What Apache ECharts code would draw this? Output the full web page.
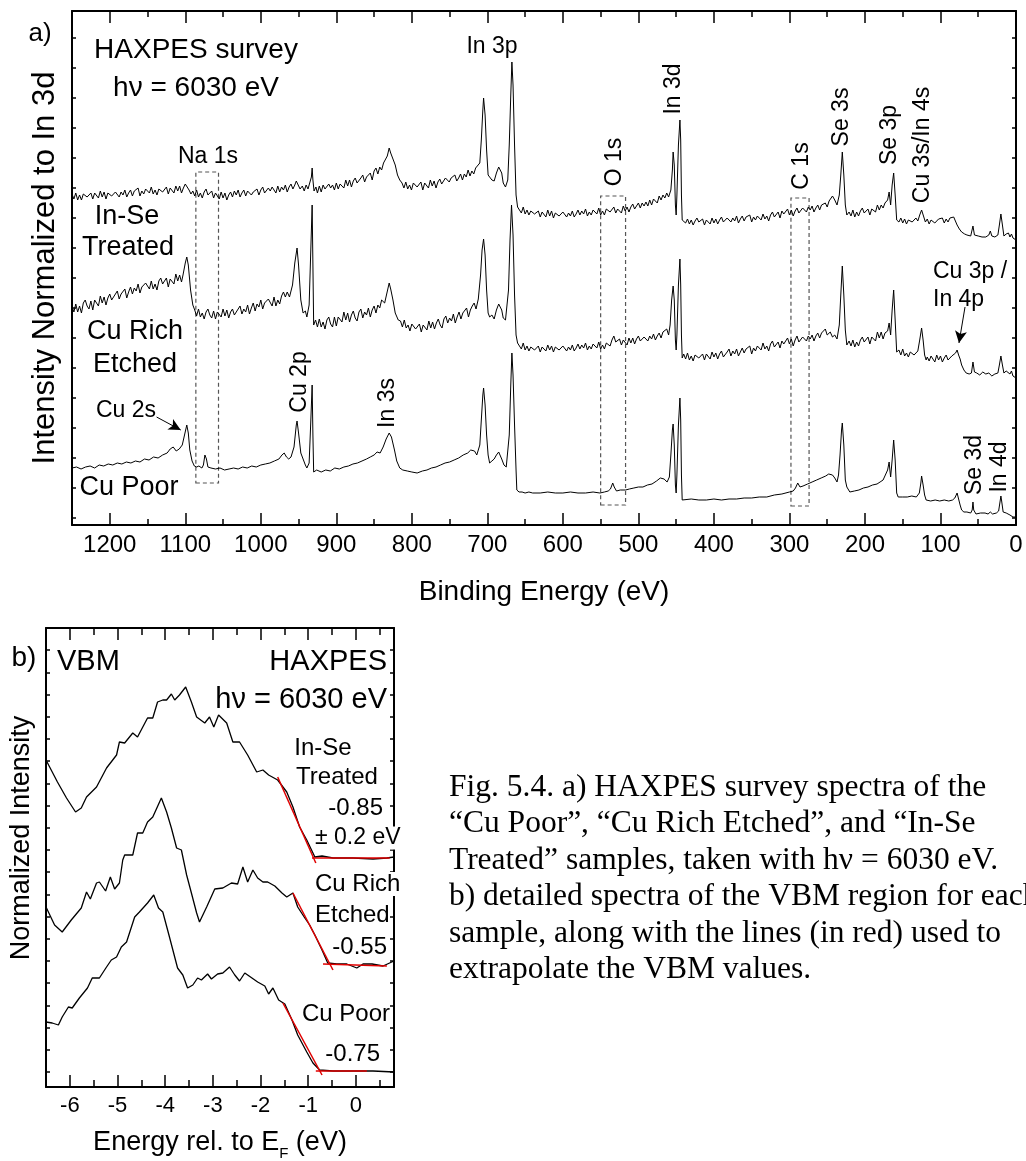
<!DOCTYPE html>
<html><head><meta charset="utf-8">
<script src="https://cdn.jsdelivr.net/npm/echarts@6/dist/echarts.min.js"></script>
<style>html,body{margin:0;padding:0;background:#fff}#c{width:1026px;height:1161px}</style>
</head><body><div id="c"></div>
<script>
// ---------------- DATA ----------------
// Panel a: survey spectra, [binding energy (eV), intensity (arb.)]
const surveyTicks = [0,100,200,300,400,500,600,700,800,900,1000,1100,1200];
const surveyMinorTicks = [50,150,250,350,450,550,650,750,850,950,1050,1150];
const surveyYTicks = [7,37,67,97,127,157,187,217,247,277,307,337,367,397,427,457,487];

const inSeSurvey = [[1250,331],[1247.5,326],[1245,332],[1242.5,325],[1240,330],[1237.5,325],[1235,331],[1232.5,333],[1230,328],[1227.5,326],[1225,332],[1222.5,326],[1220,332],[1217.5,330],[1215,327],[1212.5,334],[1210,328],[1207.5,333],[1205,326],[1202.5,332],[1200,334],[1197.5,329],[1195,327],[1192.5,333],[1190,335],[1187.5,328],[1185,333],[1182.5,330],[1180,335],[1177.5,328],[1175,332],[1172.5,335],[1170,329],[1167.5,334],[1165,332],[1162.5,337],[1160,329],[1157.5,334],[1155,331],[1152.5,336],[1150,336],[1147.5,332],[1145,338],[1142.5,331],[1140,335],[1137.5,330],[1135,336],[1132.5,338],[1130,333],[1127.5,332],[1125,338],[1122.5,331],[1120,337],[1117.5,335],[1115,332],[1112.5,339],[1110,334],[1107.5,339],[1105,332],[1102.5,337],[1100,341],[1097.5,339],[1095,335],[1092.5,331],
[1090,334],[1087.5,329],[1085,335],[1082.5,328],[1080,332],[1077.5,327],[1075,333],[1072.5,336],[1070,330],[1067.5,328],[1065,334],[1062.5,327],[1060,332],[1057.5,330],[1055,326],[1052.5,333],[1050,327],[1047.5,332],[1045,325],[1042.5,330],[1040,333],[1037.5,328],[1035,334],[1032.5,330],[1030,335],[1027.5,328],[1025,332],[1022.5,335],[1020,329],[1017.5,334],[1015,336],[1012.5,330],[1010,333],[1007.5,331],[1005,336],[1002.5,330],[1000,335],[997.5,338],[995,332],[992.5,331],[990,337],[987.5,334],[985,338],[982.5,335],[980,332],[977.5,339],[975,333],[972.5,338],[970,335],[967.5,340],[965,333],[962.5,338],[960,341],[957.5,336],[955,340],[953,344],[952,346],[950.5,340],[948,336],[945,339],[942.5,334],[940,340],[937.5,336],[935,338],[933,348],[932,357],[931,345],[929.5,334],[927,338],
[925,332],[922.5,339],[920,333],[917.5,340],[915,336],[912.5,334],[910,341],[907.5,337],[905,340],[902.5,335],[900,342],[897.5,336],[895,341],[892.5,339],[890,337],[887.5,345],[885,339],[882.5,345],[880,338],[877.5,344],[875,347],[872.5,342],[870,340],[867.5,347],[865,350],[862.5,343],[860,348],[857.5,346],[855,352],[852.5,345],[850,354],[847.5,357],[845,351],[842.5,358],[840,355],[837.5,362],[835,364],[832.5,369],[830,377],[828,372],[825,366],[822,360],[819,350],[816,345],
[813,342],[810.5,337],[808,343],[805.5,336],[803,340],[800.5,335],[798,342],[795.5,344],[793,338],[790.5,336],[788,343],[785.5,335],[783,342],[780.5,340],[778,337],[775.5,345],[773,339],[770.5,344],[768,337],[765.5,343],[763,346],[760.5,341],[758,339],[755.5,347],[753,349],[750.5,343],[748,347],[745.5,345],[743,350],[740.5,344],[738,347],[735.5,351],[733,345],[730.5,351],[728,348],[725.5,355],[723,349],[720.5,354],[718,351],[715.5,357],[713,356],[710,362],[708,385],[706,415],[705,427],[703,410],[701,375],[699,350],[697,348],[694,345],[691,344],[688,352],[685,358],[683,360],[681,352],[679,342],[676,338],[673,345],[671,380],[669,430],[667.5,463],[666,440],[664,380],[662,330],[660,318],
[657.5,317],[655,312],[652.5,318],[650,311],[647.5,315],[645,310],[642.5,314],[640,316],[637.5,311],[635,309],[632.5,314],[630,308],[627.5,313],[625,311],[622.5,308],[620,315],[617.5,309],[615,314],[612.5,307],[610,312],[607.5,314],[605,309],[602.5,307],[600,313],[597.5,315],[595,308],[592.5,312],[590,309],[587.5,314],[585,308],[582.5,311],[580,315],[577.5,310],[575,314],[572.5,311],[570,316],[567.5,309],[565,313],[562.5,310],[560,315],[557.5,316],[555,311],[552.5,317],[550,310],[547.5,314],[545,310],[542.5,316],[540,318],[537.5,313],[535,311],[532.5,318],[530,312],[527.5,316],[525,315],[522.5,312],[520,319],[517.5,314],[515,318],[512.5,313],[510,318],[507.5,321],[505,316],[502.5,315],[500,322],[497.5,317],[495,322],[492.5,319],[490,323],[487.5,319],[485,325],[482.5,320],[480,326],[477.5,324],[475,322],[472.5,329],[470,325],[467.5,330],[465,327],[462.5,332],[460,328],[459,330],[457,335],[455,355],[454,373],[452.5,360],[451,320],[450,310],[449,330],[447,380],[445,405],[444,385],[443,330],[442,305],
[440,307],[437.5,302],[435,306],[432.5,301],[430,305],[427.5,300],[425,304],[422.5,307],[420,303],[417.5,301],[415,306],[412.5,300],[410,305],[407.5,303],[405,301],[402.5,307],[400,302],[397.5,306],[395,301],[392.5,305],[390,308],[387.5,303],[385,301],[382.5,307],[380,309],[377.5,303],[375,307],[372.5,304],[370,309],[367.5,302],[365,306],[362.5,309],[360,304],[357.5,308],[355,306],[352.5,310],[350,303],[347.5,308],[345,305],[342.5,309],[340,310],[337.5,305],[335,311],[332.5,306],[330,309],[327.5,304],[325,310],[322.5,313],[320,308],[317.5,307],[315,313],[312.5,307],[310,314],[307.5,311],[305,309],[302.5,316],[300,310],[297.5,315],[295,309],[292.5,314],[290,317],[287.5,312],[285,311],[282.5,317],[280,319],[277.5,313],[275,318],[272.5,315],[270,319],[267.5,313],[265,317],[262.5,320],[260,315],[257.5,320],[255,319],[252.5,322],[250,318],[247.5,324],[245,326],[243,329],[240,325],[237,320],[234,330],[232,350],[230,373],[228,350],[226,320],[224,310],
[221,313],[218.5,309],[216,315],[213.5,308],[211,313],[208.5,309],[206,314],[203.5,317],[201,312],[198.5,310],[196,316],[193.5,310],[191,316],[188.5,315],[186,313],[183.5,320],[181,315],[178.5,320],[176,317],[173.5,322],[172,320],[170,325],[168,333],[166,320],[164,340],[162,352],[160,330],[158,305],
[155,303],[152.5,307],[150,302],[147.5,306],[145,301],[142.5,305],[140,307],[137.5,303],[135,301],[132.5,307],[130,304],[127.5,310],[125,315],[122.5,309],[120,303],[117.5,306],[115,301],[112.5,305],[110,307],[107.5,302],[105,300],[102.5,306],[100,304],[97.5,307],[95,302],[92.5,306],[90,303],[87.5,307],[85,305],[82.5,308],[80,306],[78,300],[75,296],[72,293],[68,291],[65,290],[60,289],[57,299],[55,290],[50,289],[45,288],[40,288],[36,290],[34,294],[32,289],[28,288],[24,290],[22,300],[20,311],[18,300],[16,289],[13,291],[10,292],[8,288],[6,291],[4,287],[2,286],[0,285]];

const cuRichSurvey = [[1250,219],[1247.5,213],[1245,221],[1242.5,213],[1240,219],[1237.5,212],[1235,222],[1232.5,225],[1230,219],[1227.5,216],[1225,224],[1222.5,215],[1220,225],[1217.5,222],[1215,219],[1212.5,229],[1210,222],[1207.5,228],[1205,220],[1202.5,227],[1200,231],[1197.5,225],[1195,223],[1192.5,231],[1190,234],[1187.5,226],[1185,231],[1182.5,229],[1180,236],[1177.5,227],[1175,233],[1172.5,238],[1170,231],[1167.5,237],[1165,234],[1162.5,241],[1160,232],[1157.5,238],[1155,236],[1152.5,242],[1150,243],[1147.5,236],[1145,244],[1142.5,236],[1140,241],[1137.5,235],[1135,244],[1132.5,247],[1130,241],[1127.5,239],[1125,247],[1122.5,238],[1120,246],[1117.5,244],[1115,241],[1112.5,251],[1110,244],[1107.5,250],[1105,243],[1103,250],[1100,262],[1098,268],[1096,260],[1093,235],[1090,220],
[1087.5,215],[1085,209],[1082.5,216],[1080,208],[1077.5,212],[1075,206],[1072.5,213],[1070,216],[1067.5,210],[1065,207],[1062.5,214],[1060,206],[1057.5,213],[1055,211],[1052.5,208],[1050,216],[1047.5,209],[1045,215],[1042.5,207],[1040,213],[1037.5,216],[1035,210],[1032.5,208],[1030,216],[1027.5,219],[1025,211],[1022.5,216],[1020,213],[1017.5,220],[1015,211],[1012.5,217],[1010,222],[1007.5,214],[1005,221],[1002.5,218],[1000,225],[997.5,216],[995,222],[992.5,220],[990,226],[987.5,224],[985,219],[982.5,228],[980,219],[977.5,225],[975,221],[972.5,229],[970,233],[967.5,228],[965,233],[962,228],[958,240],[955,262],[952,277],[950,260],[947,225],[944,212],[941,214],[939,208],[936,220],[934,270],[932,320],[931,260],[930,200],
[927.5,205],[925,198],[922.5,206],[920,198],[917.5,203],[915,196],[912.5,205],[910,208],[907.5,201],[905,198],[902.5,208],[900,199],[897.5,208],[895,206],[892.5,203],[890,213],[887.5,205],[885,212],[882.5,203],[880,210],[877.5,214],[875,207],[872.5,204],[870,213],[867.5,216],[865,207],[862.5,213],[860,210],[857.5,217],[855,208],[852.5,215],[850,219],[847.5,212],[845,220],[842.5,217],[840,225],[836,222],[833,232],[830,242],[828,236],[825,225],[822,212],[818,205],
[815,204],[812.5,198],[810,205],[807.5,197],[805,200],[802.5,194],[800,201],[797.5,203],[795,196],[792.5,194],[790,201],[787.5,193],[785,200],[782.5,198],[780,195],[777.5,204],[775,197],[772.5,203],[770,196],[767.5,202],[765,206],[762.5,200],[760,197],[757.5,206],[755,209],[752.5,202],[750,207],[747.5,204],[745,211],[742.5,202],[740,208],[737.5,213],[735,206],[732.5,212],[730,210],[727.5,217],[725,208],[722.5,215],[720,219],[717.5,222],[715,216],[712,226],[709,250],[707,275],[705,286],[703,270],[701,235],[699,212],[697,208],[694,210],[691,206],[688,215],[685,221],[683,223],[681,215],[679,207],[676,205],[674,207],[672,235],[670,285],[668,320],[666,290],[664,230],[662,190],[660,182],
[657.5,181],[655,176],[652.5,182],[650,175],[647.5,179],[645,174],[642.5,178],[640,180],[637.5,175],[635,173],[632.5,179],[630,173],[627.5,178],[625,177],[622.5,174],[620,180],[617.5,175],[615,179],[612.5,173],[610,178],[607.5,180],[605,175],[602.5,173],[600,179],[597.5,181],[595,174],[592.5,178],[590,175],[587.5,180],[585,174],[582.5,177],[580,181],[577.5,176],[575,180],[572.5,177],[570,182],[567.5,175],[565,179],[562.5,176],[560,181],[557.5,182],[555,177],[552.5,183],[550,176],[547.5,180],[545,176],[542.5,182],[540,184],[537.5,179],[535,185],[532.5,189],[530,183],[527.5,181],[525,186],[522.5,180],[520,185],[517.5,183],[515,180],[512.5,187],[510,182],[507.5,187],[505,181],[502.5,186],[500,189],[497.5,184],[495,182],[492.5,188],[490,190],[487.5,184],[485,189],[482.5,186],[480,191],[477.5,185],[475,189],[472.5,192],[470,187],[467.5,193],[465,191],[462.5,196],[460,190],[458,200],[456,225],[454,239],[452.5,225],[451,185],[450,175],[449,190],[447,240],[445,266],[444,240],[443,190],[442,167],
[440,171],[437.5,166],[435,172],[432.5,165],[430,169],[427.5,164],[425,170],[422.5,172],[420,167],[417.5,165],[415,171],[412.5,165],[410,171],[407.5,169],[405,166],[402.5,173],[400,168],[397.5,172],[395,166],[392.5,171],[390,174],[387.5,168],[385,166],[382.5,173],[380,176],[377.5,169],[375,174],[372.5,171],[370,176],[367.5,169],[365,173],[362.5,177],[360,172],[357.5,176],[355,174],[352.5,179],[350,171],[347.5,177],[345,174],[342.5,179],[340,180],[337.5,175],[335,182],[332.5,176],[330,179],[327.5,174],[325,181],[322.5,184],[320,178],[317.5,177],[315,183],[312.5,177],[310,184],[307.5,181],[305,179],[302.5,187],[300,181],[297.5,186],[295,179],[292.5,185],[290,189],[287.5,183],[285,181],[282.5,188],[280,190],[277.5,184],[275,189],[272.5,186],[270,190],[267.5,184],[265,189],[262.5,192],[260,187],[257.5,192],[255,191],[252.5,196],[250,190],[246,193],[243,188],[240,190],[237,186],[234,200],[232,230],[230,259],[228,230],[226,195],[224,180],
[221,184],[218.5,179],[216,185],[213.5,178],[211,183],[208.5,179],[206,185],[203.5,188],[201,183],[198.5,181],[196,188],[193.5,181],[191,188],[188.5,187],[186,184],[183.5,193],[181,187],[178.5,193],[176,186],[173.5,192],[170,194],[168,202],[166,190],[164,215],[162,235],[160,205],[158,173],
[155,175],[152.5,170],[150,176],[147.5,169],[145,172],[142.5,168],[140,173],[137.5,175],[135,170],[132.5,168],[130,174],[127.5,185],[125,197],[123,185],[121,170],[119,165],[117.5,168],[115,164],[112.5,169],[110,166],[107.5,163],[105,170],[102.5,165],[100,169],[97.5,163],[95,167],[92.5,170],[90,165],[87.5,163],[85,169],[82.5,171],[80,172],[78,175],[76,170],[74,166],[72,160],[69,155],[66,152],[62,151],[59,152],[57,163],[55,153],[52,152],[48,150],[44,153],[40,151],[36,152],[34,153],[32,149],[28,151],[24,152],[22,160],[20,169],[18,160],[16,152],[13,154],[11,155],[8,151],[6,154],[4,149],[2,148],[0,147]];

const cuPoorSurvey = [[1250,57],[1244,58],[1238,56],[1232,58],[1226,59],[1220,57],[1214,60],[1208,59],[1202,61],[1196,60],[1190,62],[1184,61],[1178,63],[1172,62],[1166,64],[1160,63],[1154,66],[1148,65],[1142,68],[1136,67],[1130,70],[1124,72],[1120,76],[1116,78],[1112,74],[1108,76],[1104,80],[1101,90],[1098,100],[1096,92],[1094,75],[1091,64],[1088,59],[1085,58],[1082,59],[1078,57],[1076,60],[1074,70],[1073,72],[1072,66],[1070,58],[1066,57],[1060,56],[1054,57],[1048,55],[1042,56],[1036,57],[1030,56],[1024,58],[1018,57],[1012,59],[1006,58],[1000,60],[994,61],[988,62],[982,64],[976,66],[972,70],[969,72],[966,68],[963,66],[960,68],[956,78],[953,100],[952,104],[950,92],[947,72],[944,66],[941,60],[939,57],[936,62],[934,100],[932,140],[931,90],[930,53],[926,55],[920,53],[914,55],[908,54],[902,57],[896,56],[890,58],[884,59],[878,61],[872,62],[866,64],[860,66],[855,68],[850,70],[846,73],[842,72],[838,78],[834,86],[830,92],[827,88],[823,75],[820,64],[816,57],[812,55],[806,54],[800,53],[793,52],[786,54],[780,55],[774,57],[768,58],[762,60],[756,62],[750,63],[744,65],[738,67],[732,70],[726,72],[722,75],[720,77],[717,74],[714,70],[712,68],[710,80],[708,105],[706,130],[705,137],[703,120],[701,90],[699,70],[697,62],[694,64],[691,66],[688,70],[685,73],[683,71],[681,66],[678,60],[675,58],[673,60],[671,90],[669,140],[667.5,172],[666,150],[664,100],[662,55],[661,35],[658,33],[654,33],[650,32],[645,33],[640,32],[630,32],[620,33],[610,32],[600,32],[590,33],[580,32],[570,32],[560,33],[551,32],[545,33],[540,34],[537,36],[534,42],[532,38],[529,34],[524,35],[517,35],[512,36],[506,37],[500,38],[494,38],[488,40],[482,41],[476,44],[471,47],[466,46],[462,43],[459,48],[457,70],[455,95],[454,101],[452.5,80],[451,40],[450,32],[449,50],[447,100],[445,127],[444,105],[443,50],[442,25],[440,25],[430,26],[420,25],[410,25],[400,26],[390,25],[380,26],[370,26],[360,27],[350,27],[340,28],[330,28],[320,30],[310,31],[300,33],[295,34],[292,37],[289,42],[286,38],[282,39],[276,41],[270,43],[264,45],[258,47],[252,49],[248,51],[246,52],[243,50],[240,47],[237,43],[235,50],[233,70],[231,95],[230,102],[228,80],[226,45],[224,38],[220,33],[214,34],[208,35],[202,37],[196,38],[190,40],[184,41],[180,43],[176,45],[173,50],[170,55],[168,63],[167,55],[166,48],[164,65],[162,85],[160,65],[158,32],[156,28],[150,28],[144,28],[138,29],[132,28],[128,32],[126,42],[125,49],[123,40],[121,30],[119,25],[113,24],[107,25],[101,24],[95,25],[89,24],[84,25],[81,27],[78,32],[76,26],[74,20],[72,15],[69,13],[65,13],[60,12],[58,15],[57,23],[56,15],[53,11],[47,12],[41,12],[37,11],[34,13],[31,11],[26,12],[23,14],[21,24],[20,29],[19,24],[17,13],[16,11],[13,12],[11,13],[8,10],[6,12],[4,8],[2,9],[0,8]];

// dashed region boxes [from eV, to eV, low, high]
const naBox = [1086, 1056, 42, 353];
const oBox = [550, 517, 20, 329];
const cBox = [298, 274, 19, 327];
// arrows [from, to]
const cu2sArrow = [[1138,108],[1106,95]];
const cu3pArrow = [[67.5,218],[75.5,182]];

// Panel b: valence band spectra [energy rel. to EF (eV), intensity]
const vbmTicks = [-6,-5,-4,-3,-2,-1,0];
const vbmMinorTicks = [-5.5,-4.5,-3.5,-2.5,-1.5,-0.5,0.5];
const vbmYTicks = [15,37.2,59.4,81.6,103.8,126,148.2,170.4,192.6,214.8,237,259.2,281.4,303.6,325.8,348,370.2,392.4,414.6,436.8];

const inSeVbm = [[-6.5,327],[-6.26,305],[-6.07,289],[-5.88,275],[-5.76,279],[-5.65,290],[-5.44,300],[-5.23,319],[-5.02,332],[-4.96,345],[-4.85,344],[-4.68,354],[-4.58,350],[-4.37,369],[-4.26,369],[-4.16,385],[-4.05,387],[-3.97,387],[-3.87,393],[-3.80,387],[-3.70,392],[-3.57,400],[-3.45,385],[-3.34,370],[-3.17,364],[-3.07,370],[-2.98,360],[-2.88,372],[-2.71,364],[-2.58,345],[-2.44,345],[-2.27,332],[-2.08,315],[-1.95,317],[-1.83,312],[-1.64,307],[-1.45,295],[-1.32,280],[-1.18,260],[-1.03,247],[-0.86,230],[-0.71,231],[-0.48,229],[-0.06,229],[0.36,228],[0.65,229],[0.8,230]];
const cuRichVbm = [[-6.5,180],[-6.32,162],[-6.16,155],[-5.97,167],[-5.76,179],[-5.65,195],[-5.57,188],[-5.44,204],[-5.38,205],[-5.25,196],[-5.15,210],[-5.06,198],[-4.96,204],[-4.89,227],[-4.85,232],[-4.68,232],[-4.58,254],[-4.47,254],[-4.37,265],[-4.26,270],[-4.08,289],[-3.97,275],[-3.87,259],[-3.76,239],[-3.66,237],[-3.55,212],[-3.45,194],[-3.34,174],[-3.28,165],[-3.13,180],[-2.96,198],[-2.79,199],[-2.61,204],[-2.48,203],[-2.37,220],[-2.27,205],[-2.16,217],[-2.06,209],[-1.95,205],[-1.85,205],[-1.70,201],[-1.55,194],[-1.45,190],[-1.32,194],[-1.22,180],[-1.07,169],[-0.97,162],[-0.86,152],[-0.71,137],[-0.59,124],[-0.40,123],[-0.19,123],[0.02,119],[0.15,123],[0.34,123],[0.57,121],[0.8,126]];
const cuPoorVbm = [[-6.5,65],[-6.37,64],[-6.24,62],[-6.16,70],[-6.03,80],[-5.95,79],[-5.80,89],[-5.63,99],[-5.53,109],[-5.38,109],[-5.23,120],[-5.13,127],[-5.02,130],[-4.92,140],[-4.81,145],[-4.64,170],[-4.54,175],[-4.37,184],[-4.24,192],[-4.14,179],[-4.05,175],[-3.91,150],[-3.74,119],[-3.63,112],[-3.53,99],[-3.42,102],[-3.32,109],[-3.24,107],[-3.11,113],[-3.03,108],[-2.90,113],[-2.79,114],[-2.65,120],[-2.54,112],[-2.44,106],[-2.33,114],[-2.21,110],[-2.06,105],[-1.91,101],[-1.83,93],[-1.74,99],[-1.62,87],[-1.49,83],[-1.34,67],[-1.22,52],[-1.03,35],[-0.90,24],[-0.76,17],[-0.48,16],[-0.06,16],[0.36,16],[0.8,15]];

// red extrapolation lines
const inSeSlope = [[-1.64,310],[-0.84,224]];
const inSeBase = [[-0.92,229],[0.71,229]];
const cuRichSlope = [[-1.32,194],[-0.48,117]];
const cuRichBase = [[-0.69,123],[0.65,121]];
const cuPoorSlope = [[-1.53,84],[-0.71,12]];
const cuPoorBase = [[-0.84,16],[0.23,16]];

// ---------------- CHART ----------------
const FONT = '"Liberation Sans", Arial, Helvetica, sans-serif';
const SERIF = '"Liberation Serif", "Times New Roman", serif';

function ax(gridIndex, position, min, max, inverse, ticks, len, showLine, extra) {
  return Object.assign({
    type: 'value', gridIndex: gridIndex, position: position, min: min, max: max, inverse: inverse,
    axisLine: {show: showLine, onZero: false, lineStyle: {color: '#000', width: 2}},
    axisTick: {show: true, inside: true, length: len, customValues: ticks, lineStyle: {color: '#000', width: 1.5}},
    axisLabel: {show: false},
    splitLine: {show: false}
  }, extra || {});
}

const xAxes = [
  ax(0, 'bottom', 0, 1250, true, surveyTicks, 12, true, {
    axisLabel: {show: true, customValues: surveyTicks, formatter: v => String(v), fontSize: 24, fontFamily: FONT, color: '#000', margin: 8},
    name: 'Binding Energy (eV)', nameLocation: 'middle', nameGap: 53,
    nameTextStyle: {fontSize: 28, fontFamily: FONT, color: '#000'}
  }),
  ax(0, 'bottom', 0, 1250, true, surveyMinorTicks, 6, false),
  ax(0, 'top', 0, 1250, true, surveyTicks, 12, true),
  ax(0, 'top', 0, 1250, true, surveyMinorTicks, 6, false),
  ax(1, 'bottom', -6.5, 0.8, false, vbmTicks, 12, true, {
    axisLabel: {show: true, customValues: vbmTicks, formatter: v => String(v), fontSize: 22, fontFamily: FONT, color: '#000', margin: 8},
    name: '{a|Energy rel. to E}{s|F}{a| (eV)}', nameLocation: 'middle', nameGap: 38,
    nameTextStyle: {rich: {
      a: {fontSize: 27, fontFamily: FONT, color: '#000', lineHeight: 30, verticalAlign: 'middle'},
      s: {fontSize: 15, fontFamily: FONT, color: '#000', lineHeight: 36, verticalAlign: 'bottom'}
    }}
  }),
  ax(1, 'bottom', -6.5, 0.8, false, vbmMinorTicks, 7, false),
  ax(1, 'top', -6.5, 0.8, false, vbmTicks, 12, true),
  ax(1, 'top', -6.5, 0.8, false, vbmMinorTicks, 7, false)
];
const yAxes = [
  ax(0, 'left', 0, 514, false, surveyYTicks, 4, true, {
    name: 'Intensity Normalized to In 3d', nameLocation: 'middle', nameRotate: 90, nameGap: 11,
    nameTextStyle: {fontSize: 31, fontFamily: FONT, color: '#000'}
  }),
  ax(0, 'right', 0, 514, false, surveyYTicks, 4, true),
  ax(1, 'left', 0, 459, false, vbmYTicks, 4, true),
  ax(1, 'right', 0, 459, false, vbmYTicks, 4, true)
];

function line(data, xi, yi, color, width, extra) {
  return Object.assign({
    type: 'line', data: data, xAxisIndex: xi, yAxisIndex: yi, showSymbol: false, symbol: 'none',
    silent: true, lineStyle: {color: color, width: width}, z: 3
  }, extra || {});
}
function box(b) { return [{coord: [b[0], b[2]]}, {coord: [b[1], b[3]]}]; }
function arrow(a) { return [{coord: a[0]}, {coord: a[1]}]; }

const series = [
  line(inSeSurvey, 0, 0, '#000', 1),
  line(cuRichSurvey, 0, 0, '#000', 1),
  line(cuPoorSurvey, 0, 0, '#000', 1, {
    markArea: {silent: true, itemStyle: {color: 'rgba(0,0,0,0)', borderColor: '#555', borderWidth: 1.2, borderType: [4, 3]},
      label: {show: false}, data: [box(naBox), box(oBox), box(cBox)]},
    markLine: {silent: true, symbol: ['none', 'arrow'], symbolSize: [9, 12], label: {show: false},
      lineStyle: {color: '#000', width: 1, type: 'solid'}, data: [arrow(cu2sArrow), arrow(cu3pArrow)]}
  }),
  line(inSeVbm, 4, 2, '#000', 1.3),
  line(cuRichVbm, 4, 2, '#000', 1.3),
  line(cuPoorVbm, 4, 2, '#000', 1.3),
  line(inSeSlope, 4, 2, '#e00000', 1.5, {z: 4}),
  line(inSeBase, 4, 2, '#e00000', 1.5, {z: 4}),
  line(cuRichSlope, 4, 2, '#e00000', 1.5, {z: 4}),
  line(cuRichBase, 4, 2, '#e00000', 1.5, {z: 4}),
  line(cuPoorSlope, 4, 2, '#e00000', 1.5, {z: 4}),
  line(cuPoorBase, 4, 2, '#e00000', 1.5, {z: 4})
];

function txt(text, x, y, size, align, rot, extra, family) {
  return {
    type: 'text', x: x, y: y, rotation: rot ? Math.PI / 2 : 0, z: 100, silent: true,
    style: Object.assign({
      text: text, x: 0, y: 0, font: size + 'px ' + (family || FONT), fill: '#000',
      align: align || 'center', verticalAlign: 'middle',
      textAlign: align || 'center', textVerticalAlign: 'middle'
    }, extra || {})
  };
}
const WB = {backgroundColor: '#fff'};
const graphics = [
  // panel a
  txt('a)', 40, 34, 26),
  txt('HAXPES survey', 196, 50, 28),
  txt('h\u03bd = 6030 eV', 196, 88, 28),
  txt('In 3p', 492, 47, 23),
  txt('Na 1s', 208, 157, 23),
  txt('In-Se', 127, 217, 27),
  txt('Treated', 128, 248, 27),
  txt('In 3d', 674, 89, 23, 'center', true),
  txt('O 1s', 615, 162, 23, 'center', true),
  txt('C 1s', 802, 166, 23, 'center', true),
  txt('Se 3s', 842, 117, 23, 'center', true),
  txt('Se 3p', 890, 135, 23, 'center', true),
  txt('Cu 3s/In 4s', 923, 145, 23, 'center', true),
  txt('Cu 3p /', 933, 272, 23, 'left'),
  txt('In 4p', 933, 300, 23, 'left'),
  txt('Cu Rich', 135, 332, 27),
  txt('Etched', 135, 365, 27),
  txt('Cu 2p', 300, 382, 23, 'center', true),
  txt('In 3s', 388, 403, 23, 'center', true),
  txt('Cu 2s', 126, 411, 23),
  txt('Cu Poor', 129, 488, 27),
  txt('Se 3d', 975, 465, 23, 'center', true),
  txt('In 4d', 1000, 467, 23, 'center', true),
  // panel b
  txt('b)', 24, 658, 28),
  txt('VBM', 57, 662, 29, 'left'),
  txt('HAXPES', 387, 662, 29, 'right'),
  txt('h\u03bd = 6030 eV', 387, 700, 29, 'right'),
  txt('In-Se', 323, 748, 24),
  txt('Treated', 337, 777, 24),
  txt('-0.85', 383, 808, 24, 'right'),
  txt('\u00b1 0.2 eV', 315, 838, 23, 'left', false, WB),
  txt('Cu Rich', 315, 884, 24, 'left', false, WB),
  txt('Etched', 315, 915, 24, 'left'),
  txt('-0.55', 387, 947, 24, 'right'),
  txt('Cu Poor', 302, 1014, 24, 'left'),
  txt('-0.75', 380, 1054, 24, 'right'),
  txt('Normalized Intensity', 22, 838, 27, 'center', true),
  // caption
  txt('Fig. 5.4. a) HAXPES survey spectra of the\n\u201cCu Poor\u201d, \u201cCu Rich Etched\u201d, and \u201cIn-Se\nTreated\u201d samples, taken with h\u03bd = 6030 eV.\nb) detailed spectra of the VBM region for each\nsample, along with the lines (in red) used to\nextrapolate the VBM values.',
      449, 769, 31.5, 'left', false, {verticalAlign: 'top', textVerticalAlign: 'top', lineHeight: 36.5}, SERIF)
];

const chart = echarts.init(document.getElementById('c'), null, {renderer: 'canvas'});
chart.setOption({
  animation: false,
  backgroundColor: '#fff',
  grid: [
    {left: 72, top: 11, width: 944, height: 514, containLabel: false, outerBoundsMode: 'none'},
    {left: 46, top: 628, width: 348, height: 459, containLabel: false, outerBoundsMode: 'none'}
  ],
  xAxis: xAxes,
  yAxis: yAxes,
  series: series,
  graphic: graphics
});
</script>
</body></html>
